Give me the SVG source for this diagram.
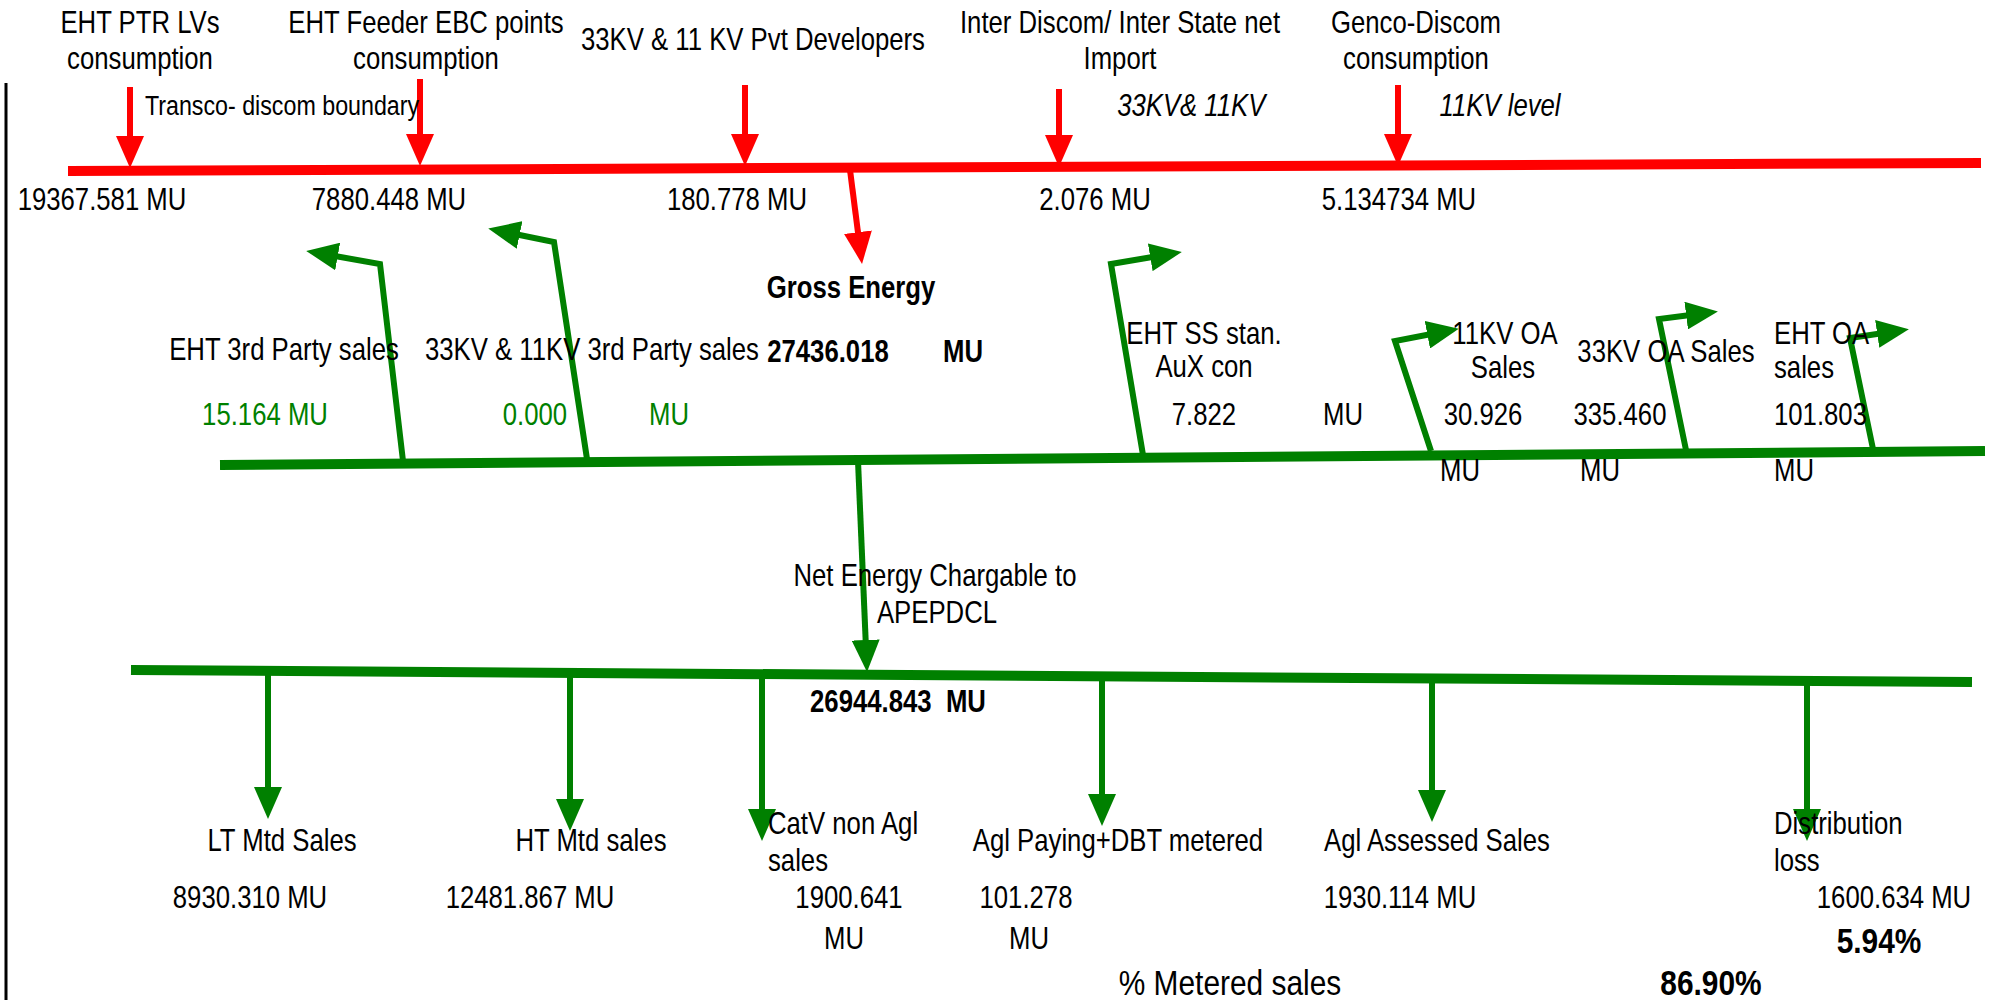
<svg xmlns="http://www.w3.org/2000/svg" width="1998" height="1000" viewBox="0 0 1998 1000">
<style>
text{font-family:"Liberation Sans",Arial,sans-serif;font-size:31px;fill:#000}
.c{text-anchor:middle;transform-box:fill-box;transform-origin:center;transform:scaleX(.83)}
.l{transform-box:fill-box;transform-origin:left center;transform:scaleX(.83)}
.b{font-weight:bold}
.i{font-style:italic}
.g{fill:#008000}
.s{font-size:28px}
.big{font-size:36px}
.rl{stroke:#ff0000;fill:none}
.gl{stroke:#008000;fill:none;stroke-linejoin:miter}
.bus{stroke-width:10}
.st{stroke-width:6}
</style>
<defs>
<marker id="ar" viewBox="0 0 32 28" refX="20" refY="14" markerWidth="32" markerHeight="28" markerUnits="userSpaceOnUse" orient="auto"><path d="M0,0 L32,14 L0,28 z" fill="#ff0000"/></marker>
<marker id="ag" viewBox="0 0 32 28" refX="20" refY="14" markerWidth="32" markerHeight="28" markerUnits="userSpaceOnUse" orient="auto"><path d="M0,0 L32,14 L0,28 z" fill="#008000"/></marker>
</defs>
<rect width="1998" height="1000" fill="#fff"/>
<line x1="6" y1="83" x2="6" y2="1000" stroke="#000" stroke-width="3"/>

<g id="connectors">
<line class="rl bus" x1="68" y1="171" x2="1981" y2="163"/>
<line class="rl st" x1="130" y1="87" x2="130" y2="156" marker-end="url(#ar)"/>
<line class="rl st" x1="420" y1="79" x2="420" y2="154" marker-end="url(#ar)"/>
<line class="rl st" x1="745" y1="85" x2="745" y2="154" marker-end="url(#ar)"/>
<line class="rl st" x1="1059" y1="89" x2="1059" y2="155" marker-end="url(#ar)"/>
<line class="rl st" x1="1398" y1="85" x2="1398" y2="154" marker-end="url(#ar)"/>
<line class="rl st" x1="850" y1="170" x2="860.5" y2="252" marker-end="url(#ar)"/>

<line class="gl bus" x1="220" y1="465" x2="1985" y2="451"/>
<polyline class="gl st" points="403,461 380,264 318,253" marker-end="url(#ag)"/>
<polyline class="gl st" points="587,459 554,242 500,231" marker-end="url(#ag)"/>
<polyline class="gl st" points="1143,455 1111,264 1170,254" marker-end="url(#ag)"/>
<polyline class="gl st" points="1431,451 1395,341 1447,331" marker-end="url(#ag)"/>
<polyline class="gl st" points="1686,450 1659,319 1706,313" marker-end="url(#ag)"/>
<polyline class="gl st" points="1873,449 1850,338 1897,331" marker-end="url(#ag)"/>
<line class="gl st" x1="858" y1="461" x2="866.5" y2="660" marker-end="url(#ag)"/>

<line class="gl bus" x1="131" y1="670" x2="1972" y2="682"/>
<line class="gl st" x1="268" y1="671" x2="268" y2="807" marker-end="url(#ag)"/>
<line class="gl st" x1="570" y1="673" x2="570" y2="819" marker-end="url(#ag)"/>
<line class="gl st" x1="762" y1="674" x2="762" y2="829" marker-end="url(#ag)"/>
<line class="gl st" x1="1102" y1="676" x2="1102" y2="814" marker-end="url(#ag)"/>
<line class="gl st" x1="1432" y1="678" x2="1432" y2="810" marker-end="url(#ag)"/>
<line class="gl st" x1="1807" y1="680" x2="1807" y2="829" marker-end="url(#ag)"/>
</g>

<g id="eht-ptr">
<text class="c" x="140" y="33">EHT PTR LVs</text>
<text class="c" x="140" y="69">consumption</text>
<text class="c s" x="282" y="115">Transco- discom boundary</text>
<text class="c" x="102" y="210">19367.581 MU</text>
</g>
<g id="eht-feeder">
<text class="c" x="426" y="33">EHT Feeder EBC points</text>
<text class="c" x="426" y="69">consumption</text>
<text class="c" x="389" y="210">7880.448 MU</text>
</g>
<g id="pvt-dev">
<text class="c" x="753" y="50">33KV &amp; 11 KV Pvt Developers</text>
<text class="c" x="737" y="210">180.778 MU</text>
</g>
<g id="inter-discom">
<text class="c" x="1120" y="33">Inter Discom/ Inter State net</text>
<text class="c" x="1120" y="69">Import</text>
<text class="c i" x="1191" y="116">33KV&amp; 11KV</text>
<text class="c" x="1095" y="210">2.076 MU</text>
</g>
<g id="genco">
<text class="c" x="1416" y="33">Genco-Discom</text>
<text class="c" x="1416" y="69">consumption</text>
<text class="c i" x="1500" y="116">11KV level</text>
<text class="c" x="1399" y="210">5.134734 MU</text>
</g>
<g id="gross">
<text class="c b" x="851" y="298">Gross Energy</text>
<text class="c b" x="828" y="362">27436.018</text>
<text class="c b" x="963" y="362">MU</text>
</g>
<g id="eht-3rd">
<text class="c" x="284" y="360">EHT 3rd Party sales</text>
<text class="c g" x="265" y="425">15.164 MU</text>
</g>
<g id="kv-3rd">
<text class="c" x="592" y="360">33KV &amp; 11KV 3rd Party sales</text>
<text class="c g" x="535" y="425">0.000</text>
<text class="c g" x="669" y="425">MU</text>
</g>
<g id="eht-ss">
<text class="c" x="1204" y="344">EHT SS stan.</text>
<text class="c" x="1204" y="377">AuX con</text>
<text class="c" x="1204" y="425">7.822</text>
<text class="c" x="1343" y="425">MU</text>
</g>
<g id="oa11">
<text class="c" x="1505" y="344">11KV OA</text>
<text class="c" x="1503" y="378">Sales</text>
<text class="c" x="1483" y="425">30.926</text>
<text class="c" x="1460" y="481">MU</text>
</g>
<g id="oa33">
<text class="c" x="1666" y="362">33KV OA Sales</text>
<text class="c" x="1620" y="425">335.460</text>
<text class="c" x="1600" y="481">MU</text>
</g>
<g id="oa-eht">
<text class="l" x="1774" y="344">EHT OA</text>
<text class="l" x="1774" y="378">sales</text>
<text class="l" x="1774" y="425">101.803</text>
<text class="l" x="1774" y="481">MU</text>
</g>
<g id="net-energy">
<text class="c" x="935" y="586">Net Energy Chargable to</text>
<text class="c" x="937" y="623">APEPDCL</text>
<text class="c b" x="898" y="712" xml:space="preserve">26944.843  MU</text>
</g>
<g id="lt-mtd">
<text class="c" x="282" y="851">LT Mtd Sales</text>
<text class="c" x="250" y="908">8930.310 MU</text>
</g>
<g id="ht-mtd">
<text class="c" x="591" y="851">HT Mtd sales</text>
<text class="c" x="530" y="908">12481.867 MU</text>
</g>
<g id="catv">
<text class="l" x="768" y="834">CatV non Agl</text>
<text class="l" x="768" y="871">sales</text>
<text class="c" x="849" y="908">1900.641</text>
<text class="c" x="844" y="949">MU</text>
</g>
<g id="agl-paying">
<text class="c" x="1118" y="851">Agl Paying+DBT metered</text>
<text class="c" x="1026" y="908">101.278</text>
<text class="c" x="1029" y="949">MU</text>
</g>
<g id="agl-assessed">
<text class="c" x="1437" y="851">Agl Assessed Sales</text>
<text class="c" x="1400" y="908">1930.114 MU</text>
</g>
<g id="dist-loss">
<text class="l" x="1774" y="834">Distribution</text>
<text class="l" x="1774" y="871">loss</text>
<text class="c" x="1894" y="908">1600.634 MU</text>
<text class="c b big" x="1879" y="953">5.94%</text>
</g>
<g id="metered">
<text class="c big" x="1230" y="995">% Metered sales</text>
<text class="c b big" x="1711" y="995">86.90%</text>
</g>
</svg>
